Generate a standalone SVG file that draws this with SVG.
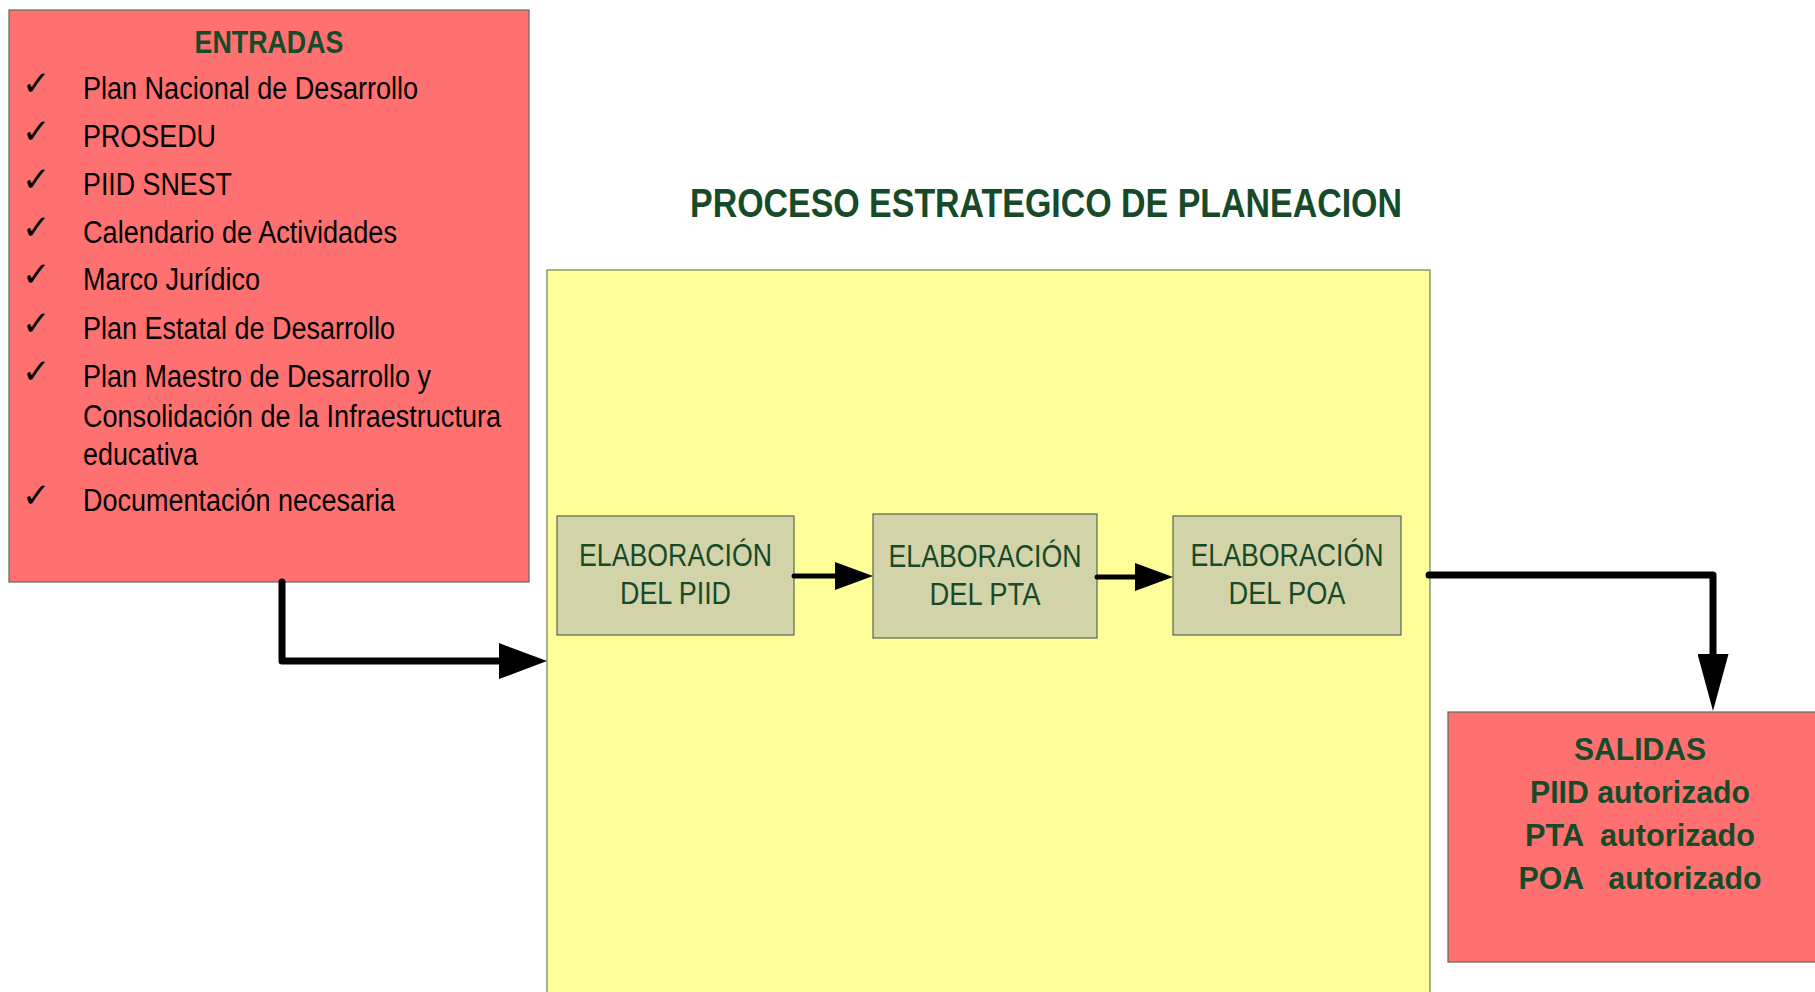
<svg xmlns="http://www.w3.org/2000/svg" width="1815" height="992" viewBox="0 0 1815 992">
<style>
.red{fill:#FF7171;stroke:#5F6B55;stroke-width:1.2}
.yel{fill:#FFFF99;stroke:#6E7F55;stroke-width:1.2}
.box{fill:#D3D3A9;stroke:#56684A;stroke-width:1.2}
.t{font-family:"Liberation Sans Narrow","Liberation Sans",Arial,sans-serif;font-size:31px;fill:#000}
.g{fill:#174A28}
.b{font-weight:bold}
.c{text-anchor:middle}
.pre{white-space:pre}
.chk{font-family:"DejaVu Sans",sans-serif;font-size:34px;font-weight:bold;fill:#000}
.ln{fill:none;stroke:#000;stroke-linejoin:round;stroke-linecap:round}
</style>
<defs>
<marker id="mBig" markerUnits="userSpaceOnUse" markerWidth="48" markerHeight="36" refX="1" refY="18" orient="auto"><path d="M0,0 L48,18 L0,36 z" fill="#000"/></marker>
<marker id="mDown" markerUnits="userSpaceOnUse" markerWidth="57" markerHeight="31" refX="1" refY="15.5" orient="auto"><path d="M0,0 L57,15.5 L0,31 z" fill="#000"/></marker>
<marker id="mSmall" markerUnits="userSpaceOnUse" markerWidth="38" markerHeight="28" refX="1" refY="14" orient="auto"><path d="M0,0 L38,14 L0,28 z" fill="#000"/></marker>
</defs>
<rect width="1815" height="992" fill="#fff"/>

<g id="proceso">
<rect class="yel" x="547" y="270" width="883" height="740"/>
<text class="t g b c" x="1046" y="217" style="font-size:40px" textLength="712" lengthAdjust="spacingAndGlyphs">PROCESO ESTRATEGICO DE PLANEACION</text>
</g>

<g id="entradas">
<rect class="red" x="9" y="10" width="520" height="572"/>
<text class="t g b c" x="269" y="53" style="font-size:31px" textLength="149" lengthAdjust="spacingAndGlyphs">ENTRADAS</text>
<text class="chk" x="22" y="95">✓</text>
<text class="t" x="83" y="99" textLength="335" lengthAdjust="spacingAndGlyphs">Plan Nacional de Desarrollo</text>
<text class="chk" x="22" y="143">✓</text>
<text class="t" x="83" y="147" textLength="133" lengthAdjust="spacingAndGlyphs">PROSEDU</text>
<text class="chk" x="22" y="191">✓</text>
<text class="t" x="83" y="195" textLength="149" lengthAdjust="spacingAndGlyphs">PIID SNEST</text>
<text class="chk" x="22" y="239">✓</text>
<text class="t" x="83" y="243" textLength="314" lengthAdjust="spacingAndGlyphs">Calendario de Actividades</text>
<text class="chk" x="22" y="286">✓</text>
<text class="t" x="83" y="290" textLength="177" lengthAdjust="spacingAndGlyphs">Marco Jurídico</text>
<text class="chk" x="22" y="335">✓</text>
<text class="t" x="83" y="339" textLength="312" lengthAdjust="spacingAndGlyphs">Plan Estatal de Desarrollo</text>
<text class="chk" x="22" y="383">✓</text>
<text class="t" x="83" y="387" textLength="348" lengthAdjust="spacingAndGlyphs">Plan Maestro de Desarrollo y</text>
<text class="t" x="83" y="427" textLength="418" lengthAdjust="spacingAndGlyphs">Consolidación de la Infraestructura</text>
<text class="t" x="83" y="465" textLength="115" lengthAdjust="spacingAndGlyphs">educativa</text>
<text class="chk" x="22" y="507">✓</text>
<text class="t" x="83" y="511" textLength="312" lengthAdjust="spacingAndGlyphs">Documentación necesaria</text>
</g>

<g id="piid">
<rect class="box" x="557" y="516" width="237" height="119"/>
<text class="t g c" x="675.5" y="566" textLength="193" lengthAdjust="spacingAndGlyphs">ELABORACIÓN</text>
<text class="t g c" x="675.5" y="604" textLength="111" lengthAdjust="spacingAndGlyphs">DEL PIID</text>
</g>
<g id="pta">
<rect class="box" x="873" y="514" width="224" height="124"/>
<text class="t g c" x="985" y="567" textLength="193" lengthAdjust="spacingAndGlyphs">ELABORACIÓN</text>
<text class="t g c" x="985" y="605" textLength="111" lengthAdjust="spacingAndGlyphs">DEL PTA</text>
</g>
<g id="poa">
<rect class="box" x="1173" y="516" width="228" height="119"/>
<text class="t g c" x="1287" y="566" textLength="193" lengthAdjust="spacingAndGlyphs">ELABORACIÓN</text>
<text class="t g c" x="1287" y="604" textLength="117" lengthAdjust="spacingAndGlyphs">DEL POA</text>
</g>

<g id="salidas">
<rect class="red" x="1448" y="712" width="380" height="250"/>
<text class="t g b c" x="1640" y="760" textLength="132" lengthAdjust="spacingAndGlyphs">SALIDAS</text>
<text class="t g b c pre" x="1640" y="803" textLength="220" lengthAdjust="spacingAndGlyphs">PIID autorizado</text>
<text class="t g b c pre" x="1640" y="846" textLength="230" lengthAdjust="spacingAndGlyphs">PTA  autorizado</text>
<text class="t g b c pre" x="1640" y="889" textLength="243" lengthAdjust="spacingAndGlyphs">POA   autorizado</text>
</g>

<g id="connectors">
<path class="ln" d="M282,582 V661 H500" stroke-width="7" marker-end="url(#mBig)"/>
<path class="ln" d="M794,576 H836" stroke-width="5" marker-end="url(#mSmall)"/>
<path class="ln" d="M1097,577 H1136" stroke-width="5" marker-end="url(#mSmall)"/>
<path class="ln" d="M1429,575 H1713 V655" stroke-width="7" marker-end="url(#mDown)"/>
</g>
</svg>
